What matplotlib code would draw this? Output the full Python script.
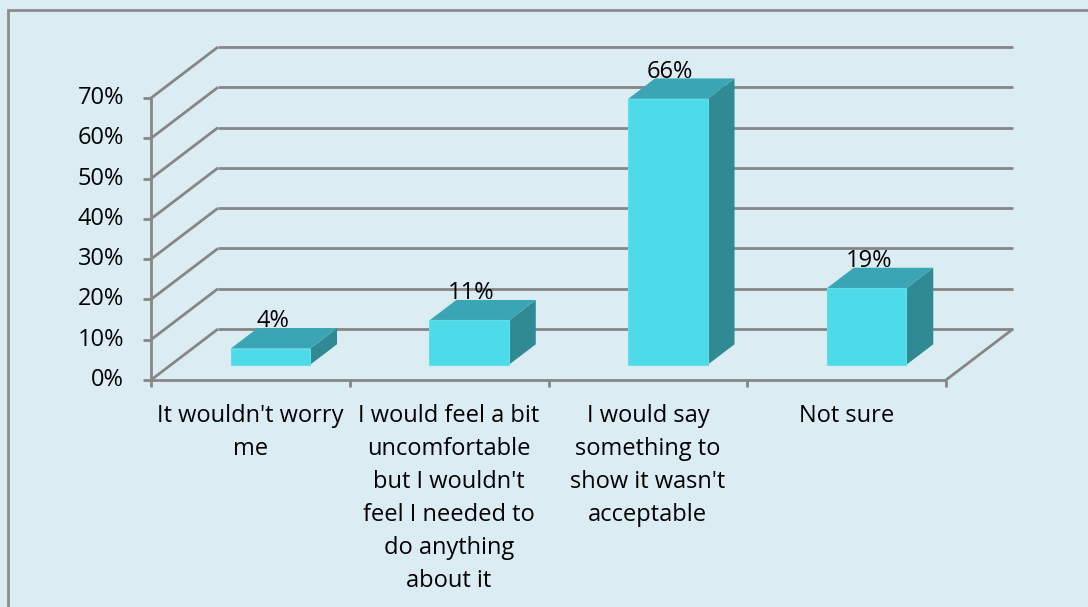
import matplotlib.pyplot as plt
from matplotlib.patches import Polygon, Rectangle

categories = [
    "It wouldn't worry\nme",
    "I would feel a bit\nuncomfortable\nbut I wouldn't\nfeel I needed to\ndo anything\nabout it",
    "I would say\nsomething to\nshow it wasn't\nacceptable",
    "Not sure",
]
values = [4, 11, 66, 19]
yticks = [0, 10, 20, 30, 40, 50, 60, 70]

plt.rcParams['font.family'] = ['Open Sans', 'DejaVu Sans']

BG = '#dbedf3'
GRID = '#868686'
FRONT = '#4ddbea'
TOP = '#3aa6b5'
SIDE = '#2f8a93'
FS = 17

# depth offset of the back wall, in data units
DX, DY = 0.337, 12.66
# bars occupy the middle of the depth
D0, D1 = 0.3, 0.7
BW = 0.4


def proj(x, y, d):
    return x + d * DX, y + d * DY


fig = plt.figure(figsize=(10.88, 6.07), dpi=100)
fig.patch.set_facecolor(BG)
fig.patches.append(Rectangle((8 / 1088, -0.1), 1.2, 597 / 607 + 0.1,
                             transform=fig.transFigure, fill=False,
                             edgecolor='#8c8c8c', linewidth=2))

ax = fig.add_axes([151 / 1088, (607 - 380) / 607, 795 / 1088, 282 / 607])
ax.set_xlim(0, 4)
ax.set_ylim(0, 70)
ax.axis('off')

n = len(categories)
kw = dict(color=GRID, linewidth=2, clip_on=False, solid_capstyle='butt')

# walls: diagonal on the left side, horizontal on the back
for t in yticks:
    bx, by = proj(0, t, 1)
    ax.plot([0, bx], [t, by], zorder=1, **kw)
    ex, _ = proj(n, t, 1)
    ax.plot([bx, ex], [by, by], zorder=1, **kw)
    ax.plot([-0.04, 0], [t, t], zorder=1, **kw)
    ax.text(-0.135, t, f"{t}%", ha='right', va='center', fontsize=FS)

# floor right edge and front axes
fx, fy = proj(n, 0, 1)
ax.plot([n, fx], [0, fy], zorder=1, **kw)
ax.plot([0, 0], [0, 70], zorder=5, **kw)
ax.plot([0, n], [0, 0], zorder=5, **kw)
for i in range(n + 1):
    ax.plot([i, i], [0, -1.8], zorder=5, **kw)

# 3D bars
for i, v in enumerate(values):
    x0 = i + 0.5 - BW / 2
    x1 = x0 + BW
    fa = proj(x0, 0, D0)
    fb = proj(x1, 0, D0)
    fc = proj(x1, v, D0)
    fd = proj(x0, v, D0)
    bc = proj(x1, v, D1)
    bd = proj(x0, v, D1)
    bb = proj(x1, 0, D1)
    ax.add_patch(Polygon([fb, bb, bc, fc], closed=True, facecolor=SIDE,
                         edgecolor='none', clip_on=False, zorder=3))
    ax.add_patch(Polygon([fd, fc, bc, bd], closed=True, facecolor=TOP,
                         edgecolor='none', clip_on=False, zorder=3))
    ax.add_patch(Polygon([fa, fb, fc, fd], closed=True, facecolor=FRONT,
                         edgecolor='#5fe0ee', linewidth=0.8, clip_on=False, zorder=4))
    lx, ly = proj(i + 0.5, v, D1)
    ax.text(proj(i + 0.5, v, D0)[0] + 0.01, ly + 0.2, f"{v}%", ha='center',
            va='baseline', fontsize=FS, zorder=6)

# category labels
for i, c in enumerate(categories):
    ax.text(i + 0.5, -6.0, c, ha='center', va='top', fontsize=FS,
            linespacing=1.5)

fig.savefig('out.png', dpi=100, facecolor=BG)
